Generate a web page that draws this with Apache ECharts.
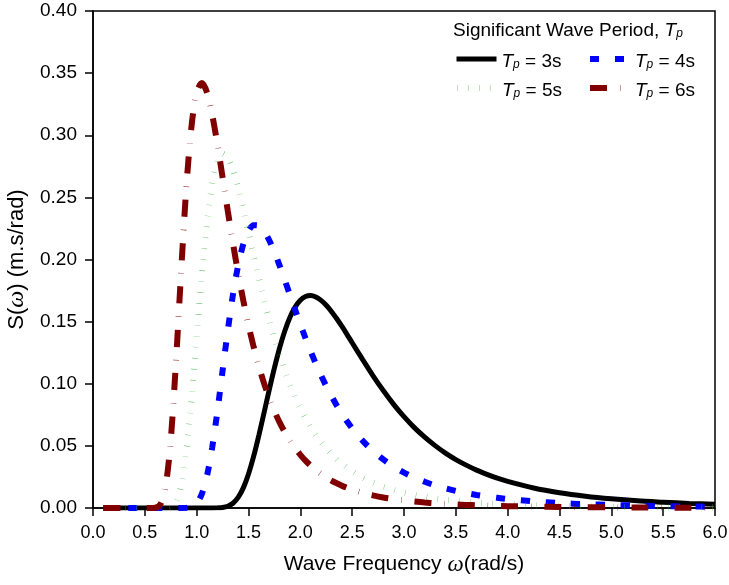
<!DOCTYPE html>
<html>
<head>
<meta charset="utf-8">
<script src="https://cdn.jsdelivr.net/npm/echarts@6/dist/echarts.min.js"></script>
<style>
  html, body { margin: 0; padding: 0; background: #fff; }
  #chart { width: 729px; height: 585px; }
</style>
</head>
<body>
<div id="chart"></div>
<script>
// wave frequency (rad/s)
const omega = [0.1, 0.2, 0.3, 0.4, 0.5, 0.55, 0.6, 0.65, 0.7, 0.75, 0.8, 0.85, 0.9, 0.95,
  1.0, 1.05, 1.1, 1.15, 1.2, 1.25, 1.3, 1.35, 1.4, 1.45, 1.5, 1.55, 1.6, 1.65, 1.7, 1.75,
  1.8, 1.85, 1.9, 1.95, 2.0, 2.05, 2.1, 2.15, 2.2, 2.25, 2.3, 2.35, 2.4, 2.45, 2.5,
  2.6, 2.7, 2.8, 2.9, 3.0, 3.1, 3.2, 3.3, 3.4, 3.5, 3.6, 3.7, 3.8, 3.9, 4.0,
  4.25, 4.5, 4.75, 5.0, 5.25, 5.5, 5.75, 6.0];

// S(omega) per peak period
const tp3 = [0, 0, 0, 0, 0, 0, 0, 0, 0, 0, 0, 0, 0, 0, 0, 0, 0, 0,
  0.0001, 0.0004, 0.0014, 0.0038, 0.0085, 0.0162, 0.0274, 0.0417, 0.0585, 0.0767, 0.0951, 0.1128,
  0.1288, 0.1424, 0.1535, 0.1617, 0.1672, 0.1702, 0.1710, 0.1698, 0.1671, 0.1632, 0.1582, 0.1525,
  0.1463, 0.1398, 0.1330,
  0.1196, 0.1066, 0.0945, 0.0834, 0.0735, 0.0647, 0.0570, 0.0502, 0.0442, 0.0390, 0.0345, 0.0305,
  0.0271, 0.0240, 0.0214,
  0.0161, 0.0123, 0.0095, 0.0074, 0.0058, 0.0047, 0.0037, 0.0030];

const tp4 = [0, 0, 0, 0, 0, 0, 0, 0, 0, 0, 0, 0,
  0.0001, 0.0009, 0.0038, 0.0114, 0.0261, 0.0488, 0.0779, 0.1105, 0.1427, 0.1717, 0.1951, 0.2123,
  0.2229, 0.2276, 0.2272, 0.2229, 0.2155, 0.2060, 0.1951, 0.1834, 0.1714, 0.1595, 0.1478, 0.1366,
  0.1260, 0.1160, 0.1067, 0.0981, 0.0901, 0.0827, 0.0760, 0.0698, 0.0641,
  0.0542, 0.0460, 0.0391, 0.0333, 0.0285, 0.0245, 0.0211, 0.0182, 0.0158, 0.0138, 0.0120, 0.0105,
  0.0093, 0.0082, 0.0072,
  0.0054, 0.0040, 0.0031, 0.0024, 0.0019, 0.0015, 0.0012, 0.0010];

const tp5 = [0, 0, 0, 0, 0, 0, 0, 0,
  0, 0.0007, 0.0047, 0.0179, 0.0456, 0.0877, 0.1381, 0.1880, 0.2303, 0.2608, 0.2786, 0.2850,
  0.2818, 0.2719, 0.2575, 0.2403, 0.2218, 0.2030, 0.1847, 0.1674, 0.1512, 0.1362, 0.1226, 0.1102,
  0.0991, 0.0891, 0.0802, 0.0722, 0.0650, 0.0587, 0.0530, 0.0479, 0.0433, 0.0393, 0.0356, 0.0324,
  0.0295,
  0.0245, 0.0205, 0.0172, 0.0146, 0.0123, 0.0105, 0.0090, 0.0078, 0.0067, 0.0058, 0.0051, 0.0044,
  0.0039, 0.0034, 0.0030,
  0.0022, 0.0017, 0.0013, 0.0010, 0.0008, 0.0006, 0.0005, 0.0004];

const tp6 = [0, 0, 0, 0, 0, 0,
  0.0002, 0.0029, 0.0171, 0.0548, 0.1170, 0.1900, 0.2576, 0.3069, 0.3344, 0.3420, 0.3343, 0.3164,
  0.2926, 0.2661, 0.2392, 0.2132, 0.1890, 0.1669, 0.1471, 0.1295, 0.1140, 0.1003, 0.0884, 0.0780,
  0.0689, 0.0610, 0.0541, 0.0480, 0.0428, 0.0381, 0.0341, 0.0305, 0.0274, 0.0246, 0.0221, 0.0200,
  0.0180, 0.0163, 0.0148,
  0.0122, 0.0102, 0.0085, 0.0072, 0.0061, 0.0052, 0.0044, 0.0038, 0.0033, 0.0028, 0.0025, 0.0022,
  0.0019, 0.0017, 0.0015,
  0.0011, 0.0008, 0.0006, 0.0005, 0.0004, 0.0003, 0.0002, 0.0002];

const periods = ['3s', '4s', '5s', '6s'];

const FONT = 'Liberation Sans, Arial, sans-serif';
const SERIF = 'Liberation Serif, Times New Roman, serif';

// line look of each period
const lineStyles = [
  { color: '#000000', width: 5, type: 'solid' },
  { color: '#0000ff', width: 6, type: [9, 16], cap: 'butt' },
  { color: '#3fb03f', width: 6, type: [0.35, 10.65], cap: 'butt' },
  { color: '#800000', width: 6, type: [17, 13, 0.4, 13], cap: 'butt' }
];

function pairs(ys) {
  return omega.map((w, i) => [w, ys[i]]);
}

// rich text pieces for "T_p = Ns"
const legendRich = {
  i: { fontFamily: FONT, fontStyle: 'italic', fontSize: 19, lineHeight: 24, verticalAlign: 'bottom', color: '#000' },
  s: { fontFamily: FONT, fontStyle: 'italic', fontSize: 12, lineHeight: 4, verticalAlign: 'bottom', color: '#000' },
  n: { fontFamily: FONT, fontSize: 19, lineHeight: 24, verticalAlign: 'bottom', color: '#000' }
};

function makeLegend(idx, left, top) {
  return {
    data: ['Tp = ' + periods[idx]],
    left: left,
    top: top,
    padding: 0,
    itemWidth: 40,
    itemHeight: 14,
    itemGap: 0,
    selectedMode: false,
    itemStyle: { opacity: 0 },
    lineStyle: Object.assign({}, lineStyles[idx]),
    formatter: () => '{i|T}{s|p}{n| = ' + periods[idx] + '}',
    textStyle: { rich: legendRich }
  };
}

function makeSeries(idx, ys) {
  return {
    name: 'Tp = ' + periods[idx],
    type: 'line',
    data: pairs(ys),
    showSymbol: false,
    symbol: 'none',
    smooth: 0.3,
    color: lineStyles[idx].color,
    lineStyle: Object.assign({}, lineStyles[idx])
  };
}

function initChart() {
  const chartDom = document.getElementById('chart');
  const myChart = echarts.init(chartDom, null, { renderer: 'canvas' });

  const option = {
    animation: false,
    backgroundColor: '#fff',
    grid: {
      left: 93, right: 14, top: 11, bottom: 77,
      outerBoundsMode: 'none',
      containLabel: false,
      show: true, borderColor: '#000', borderWidth: 1.5, backgroundColor: 'transparent'
    },
    legend: [
      makeLegend(0, 454, 52),
      makeLegend(1, 587, 52),
      makeLegend(2, 454, 81),
      makeLegend(3, 587, 81)
    ],
    graphic: [{
      type: 'text',
      left: 453,
      top: 21,
      style: {
        text: '{n|Significant Wave Period, }{i|T}{s|p}',
        rich: legendRich
      }
    }],
    xAxis: {
      type: 'value',
      min: 0, max: 6, interval: 0.5,
      name: '{n|Wave Frequency }{w|ω}{n|(rad/s)}',
      nameLocation: 'middle',
      nameGap: 45,
      nameTextStyle: {
        rich: {
          n: { fontFamily: FONT, fontSize: 21, color: '#000' },
          w: { fontFamily: SERIF, fontStyle: 'italic', fontSize: 23, color: '#000' }
        }
      },
      axisLine: { lineStyle: { color: '#000', width: 1.5 } },
      axisTick: { inside: false, length: 8, lineStyle: { color: '#000', width: 1.5 } },
      axisLabel: { margin: 16, color: '#000', fontFamily: FONT, fontSize: 18, formatter: v => v.toFixed(1) },
      splitLine: { show: false }
    },
    yAxis: {
      type: 'value',
      min: 0, max: 0.4, interval: 0.05,
      name: '{n|S(}{w|ω}{n|) (m.s/rad)}',
      nameLocation: 'middle',
      nameGap: 54,
      nameRotate: 90,
      nameTextStyle: {
        rich: {
          n: { fontFamily: FONT, fontSize: 22, color: '#000' },
          w: { fontFamily: SERIF, fontStyle: 'italic', fontSize: 24, color: '#000' }
        }
      },
      axisLine: { show: true, lineStyle: { color: '#000', width: 1.5 } },
      axisTick: { show: true, inside: false, length: 8, lineStyle: { color: '#000', width: 1.5 } },
      axisLabel: { margin: 16, color: '#000', fontFamily: FONT, fontSize: 19, formatter: v => v.toFixed(2) },
      splitLine: { show: false }
    },
    series: [
      makeSeries(0, tp3),
      makeSeries(1, tp4),
      makeSeries(2, tp5),
      makeSeries(3, tp6)
    ]
  };

  myChart.setOption(option);
  window.addEventListener('resize', () => myChart.resize());
}

window.onload = initChart;
</script>
</body>
</html>
